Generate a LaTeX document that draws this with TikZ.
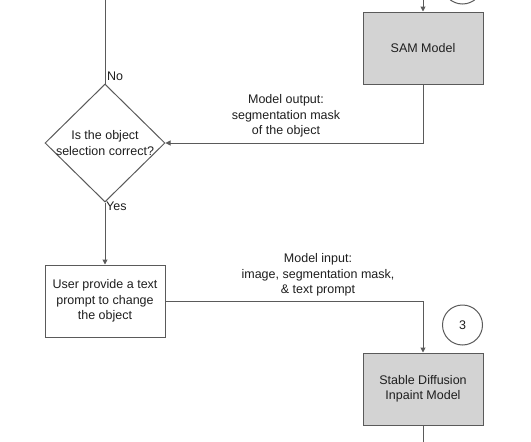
\documentclass[tikz,border=0pt]{standalone}
\usepackage{fontspec}
\setmainfont{Liberation Sans}
\usetikzlibrary{arrows.meta,shapes.geometric}
\definecolor{linec}{HTML}{5A5A5A}
\definecolor{boxfill}{HTML}{D3D3D3}
\definecolor{txt}{HTML}{1E1E1E}
\begin{document}
\begin{tikzpicture}[x=1pt,y=-1pt,
  every node/.style={font=\fontsize{12.5}{15.3}\selectfont, text=txt},
  conn/.style={draw=linec, line width=1pt},
  arr/.style={conn, -{Triangle[length=5pt,width=5pt]}},
  procbox/.style={draw=linec, line width=1pt, minimum width=120pt, minimum height=72pt, align=center, inner sep=0pt},
  modelbox/.style={procbox, fill=boxfill},
  decision/.style={diamond, draw=linec, line width=1pt, minimum width=120pt, minimum height=118pt, inner sep=-16pt, align=center},
  stepcircle/.style={circle, draw=linec, line width=1pt, minimum size=40pt, inner sep=0pt},
  edgelabel/.style={align=center, inner sep=0pt}]
\useasboundingbox (0,0) rectangle (531,442);
\clip (0,0) rectangle (531,442);
% free ends
\coordinate (topL) at (105,-2);
\coordinate (topR) at (423,-2);
\coordinate (botR) at (423,444);
% nodes
\node[stepcircle] (c2) at (462.5,-16) {};
\node[modelbox] (sam) at (423,48) {SAM Model};
\node[decision] (dec) at (105,143) {Is the object\\selection correct?};
\node[procbox] (user) at (105,301) {User provide a text\\prompt to change\\the object};
\node[modelbox] (sd) at (423,389) {Stable Diffusion\\Inpaint Model};
\node[stepcircle] (c3) at (462.5,325) {3};
\node[edgelabel] (lout) at (286,116) {Model output:\\segmentation mask\\of the object};
\node[edgelabel] (lin) at (318,275) {Model input:\\image, segmentation mask,\\\& text prompt};
\node[anchor=west, inner sep=0pt] (no) at (107,76) {No};
\node[anchor=west, inner sep=0pt] (yes) at (106,206) {Yes};
% connectors
\draw[conn] (topL) -- (dec.north);
\draw[arr] (topR) -- (sam.north);
\draw[arr] (sam.south) |- (dec.east);
\draw[arr] (dec.south) -- (user.north);
\draw[arr] (user.east) -| (sd.north);
\draw[conn] (sd.south) -- (botR);
\end{tikzpicture}
\end{document}
